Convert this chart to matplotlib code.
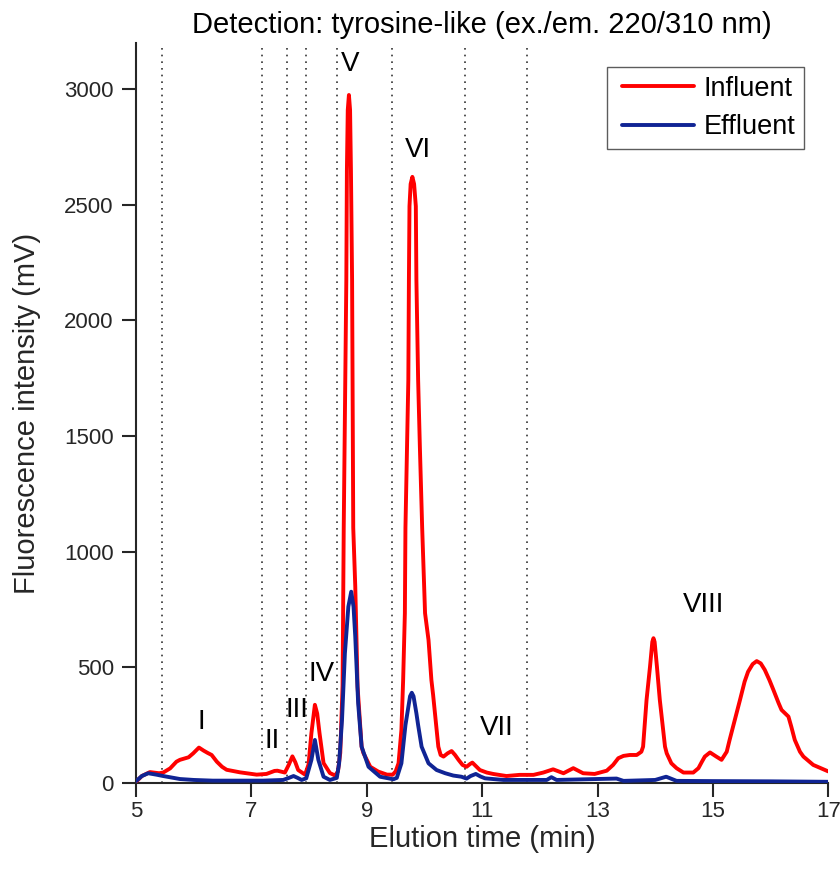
import matplotlib
matplotlib.use("Agg")
import matplotlib.pyplot as plt
from matplotlib.lines import Line2D
from matplotlib.legend_handler import HandlerLine2D

plt.rcParams['font.family'] = ['Liberation Sans', 'DejaVu Sans']

# ---- data ----
influent_t = [5.00, 5.10, 5.24, 5.40, 5.47, 5.59, 5.70, 5.76, 5.91, 5.99, 6.09, 6.17, 6.24, 6.31,
              6.40, 6.49, 6.57, 6.80, 7.09, 7.26, 7.40, 7.45, 7.58, 7.65, 7.71, 7.76, 7.81, 7.93,
              7.99, 8.04, 8.10, 8.14, 8.18, 8.25, 8.36, 8.45, 8.50, 8.54, 8.58, 8.60, 8.645, 8.655,
              8.67, 8.69, 8.71, 8.725, 8.745, 8.765, 8.80, 8.84, 8.91, 8.94, 9.06, 9.20, 9.35, 9.45,
              9.50, 9.55, 9.60, 9.63, 9.66, 9.67, 9.72, 9.73, 9.74, 9.76, 9.79, 9.82, 9.85, 9.86,
              9.89, 9.92, 9.96, 9.98, 10.01, 10.07, 10.12, 10.15, 10.20, 10.24, 10.28, 10.33,
              10.40, 10.47, 10.53, 10.59, 10.66, 10.73, 10.79, 10.83, 10.89, 10.96, 11.08, 11.19,
              11.42, 11.65, 11.89, 12.06, 12.23, 12.41, 12.58, 12.75, 12.95, 13.16, 13.27, 13.36,
              13.45, 13.56, 13.68, 13.76, 13.79, 13.85, 13.91, 13.95, 13.97, 13.99, 14.03, 14.08,
              14.17, 14.20, 14.28, 14.37, 14.49, 14.66, 14.75, 14.81, 14.86, 14.95, 15.06, 15.15,
              15.24, 15.29, 15.38, 15.47, 15.55, 15.61, 15.69, 15.76, 15.83, 15.90, 15.98, 16.05,
              16.14, 16.19, 16.31, 16.36, 16.42, 16.51, 16.57, 16.74, 16.97, 17.00]
influent_mv = [5, 30, 47, 42, 45, 63, 92, 100, 111, 128, 153, 140, 130, 121,
               92, 70, 57, 46, 36, 39, 52, 53, 45, 80, 115, 90, 56, 36,
               80, 216, 338, 300, 216, 86, 43, 32, 50, 130, 420, 1103, 2175, 2650,
               2910, 2975, 2910, 2650, 2175, 1103, 850, 416, 157, 130, 70, 49, 36, 36,
               50, 85, 229, 445, 734, 1103, 1742, 2175, 2494, 2590, 2621, 2590, 2494, 2175,
               1742, 1454, 1103, 950, 734, 618, 445, 380, 258, 157, 121, 114,
               128, 138, 121, 100, 78, 70, 82, 88, 73, 56, 45, 39,
               30, 35, 35, 45, 59, 42, 64, 42, 39, 53, 78, 107,
               117, 121, 121, 135, 157, 359, 503, 610, 626, 610, 503, 359,
               157, 128, 85, 64, 45, 45, 64, 92, 114, 132, 114, 100,
               135, 186, 272, 359, 438, 481, 514, 527, 517, 489, 445, 402,
               345, 316, 287, 243, 186, 135, 114, 78, 53, 50]

effluent_t = [5.00, 5.10, 5.21, 5.35, 5.47, 5.76, 6.00, 6.33, 7.20, 7.55, 7.65, 7.73, 7.80, 7.87,
              7.95, 8.04, 8.10, 8.16, 8.25, 8.36, 8.48, 8.52, 8.57, 8.62, 8.68, 8.73, 8.77, 8.80,
              8.85, 8.91, 9.03, 9.23, 9.46, 9.52, 9.60, 9.67, 9.75, 9.78, 9.81, 9.86, 9.89, 9.95,
              10.07, 10.21, 10.36, 10.50, 10.64, 10.73, 10.80, 10.89, 10.97, 11.05, 11.37, 12.12,
              12.20, 12.29, 13.33, 13.45, 14.00, 14.19, 14.37, 15.00, 16.00, 17.00]
effluent_mv = [8, 30, 42, 36, 30, 17, 13, 10, 10, 13, 22, 30, 22, 13,
               20, 100, 186, 100, 27, 13, 22, 85, 272, 560, 762, 827, 762, 633,
               345, 157, 70, 27, 16, 22, 85, 250, 375, 390, 375, 301, 250, 157,
               85, 56, 42, 32, 27, 19, 30, 39, 28, 20, 13, 13,
               25, 13, 19, 9, 13, 27, 9, 8, 7, 5]

fraction_bounds = [5.45, 7.18, 7.62, 7.95, 8.49, 9.43, 10.71, 11.77]
fraction_labels = ['I', 'II', 'III', 'IV', 'V', 'VI', 'VII', 'VIII']
label_t = [6.13, 7.36, 7.79, 8.22, 8.71, 9.89, 11.26, 14.83]
label_mv = [264, 182, 316, 471, 3108, 2737, 238, 770]

x_ticks = [5, 7, 9, 11, 13, 15, 17]
y_ticks = [0, 500, 1000, 1500, 2000, 2500, 3000]

# ---- figure ----
fig = plt.figure(figsize=(8.4, 8.84), dpi=100)
ax = fig.add_axes([0.162, 0.1143, 0.824, 0.8371])

dark = '#262626'
for xb in fraction_bounds:
    ax.axvline(xb, color='#333333', lw=1.2, linestyle=(0, (1, 3)), zorder=1)

ax.plot(influent_t, influent_mv, color='#ff0000', lw=2.8, label='Influent',
        solid_joinstyle='round', solid_capstyle='round', zorder=3)
ax.plot(effluent_t, effluent_mv, color='#102494', lw=2.8, label='Effluent',
        solid_joinstyle='round', solid_capstyle='round', zorder=4)

for lab, tx, ty in zip(fraction_labels, label_t, label_mv):
    ax.text(tx, ty, lab, ha='center', va='center', fontsize=20, color='black')

ax.set_xlim(5, 17)
ax.set_ylim(0, 3200)
ax.set_xticks(x_ticks)
ax.set_yticks(y_ticks)
ax.tick_params(direction='out', length=10, width=1.5, colors=dark, labelsize=16,
               pad=6)
ax.tick_params(axis='x', pad=3)
for s in ['top', 'right']:
    ax.spines[s].set_visible(False)
for s in ['left', 'bottom']:
    ax.spines[s].set_color(dark)
    ax.spines[s].set_linewidth(1.5)

ax.set_xlabel('Elution time (min)', fontsize=21, color=dark, labelpad=2)
ax.set_ylabel('Fluorescence intensity (mV)', fontsize=21, color=dark, labelpad=17)
ax.set_title('Detection: tyrosine-like (ex./em. 220/310 nm)', fontsize=21,
             color='black', pad=7)

leg = ax.legend(loc='upper right', bbox_to_anchor=(0.965, 0.968), fontsize=19.5,
                frameon=True, fancybox=False, edgecolor='#333333',
                handlelength=2.9, handletextpad=0.33, borderpad=0.33,
                labelspacing=0.47, borderaxespad=0,
                handler_map={Line2D: HandlerLine2D(xpad=0.22)})
leg.get_frame().set_linewidth(1.0)

fig.savefig('out.png', dpi=100)
